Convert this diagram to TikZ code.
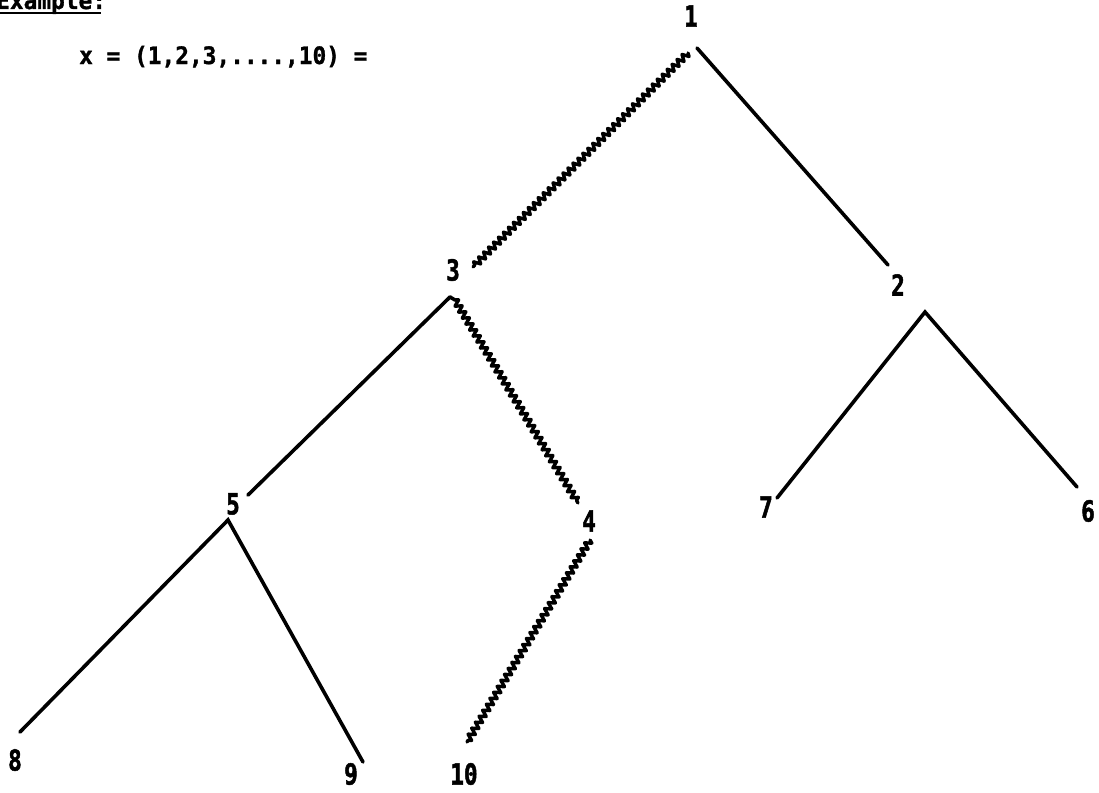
\documentclass[tikz,border=0pt]{standalone}
\usepackage{fontspec}
\newfontfamily\lblfont{DejaVu Sans Mono}[FakeStretch=0.78, FakeBold=1.6]
\newfontfamily\txtfont{DejaVu Sans Mono}[FakeStretch=0.95, FakeBold=1.2]
\usetikzlibrary{decorations.pathmorphing}
\begin{document}
\begin{tikzpicture}[x=1pt,y=-1pt,
  lbl/.style={inner sep=0pt, font=\lblfont\bfseries\fontsize{29}{30}\selectfont},
  txt/.style={inner sep=0pt, font=\txtfont\bfseries\fontsize{24}{26}\selectfont},
  edge/.style={line width=3.6pt, line cap=round, line join=miter},
  wavy/.style={line width=3.4pt, line cap=round, line join=round, decorate,
    decoration={zigzag, segment length=7pt, amplitude=3.2pt}}]
\useasboundingbox (0,0) rectangle (1099,792);
\clip (0,0) rectangle (1099,792);
% title (cut off at top)
\node[txt, anchor=base west] (title) at (-4,9) {Example:};
\draw[line width=2.6pt] (title.base west) ++(0,4) coordinate (ul1) -- (101,13) coordinate (ul2);
\node[txt, anchor=base west] (xdef) at (79,64) {x = (1,2,3,....,10) =};
% labels
\node[lbl] (n1) at (691,16) {1};
\node[lbl] (n3) at (453,270) {3};
\node[lbl] (n2) at (898,285) {2};
\node[lbl] (n5) at (233,504) {5};
\node[lbl] (n4) at (589,521) {4};
\node[lbl] (n7) at (766,507) {7};
\node[lbl] (n6) at (1088,511) {6};
\node[lbl] (n8) at (15,760) {8};
\node[lbl] (n9) at (351,774) {9};
\node[lbl] (n10) at (464,774) {10};
% edge end points
\coordinate (a1l) at (688,53);
\coordinate (a1r) at (697,48);
\coordinate (e3) at (473,267);
\coordinate (e2) at (888,265);
\coordinate (a3l) at (450,297);
\coordinate (a3r) at (455,300);
\coordinate (e5) at (248,495);
\coordinate (e4) at (578,503);
\coordinate (a2) at (925,312);
\coordinate (e7) at (777,498);
\coordinate (e6) at (1077,487);
\coordinate (a5) at (228,520);
\coordinate (e8) at (20,732);
\coordinate (e9) at (363,762);
\coordinate (a4) at (590,540);
\coordinate (e10) at (467,742);
% edges
\draw[wavy] (a1l) -- (e3);
\draw[edge] (a1r) -- (e2);
\draw[edge] (a3l) -- (e5);
\draw[edge] (a3l) -- (a3r);
\draw[wavy] (a3r) -- (e4);
\draw[edge] (e7) -- (a2) -- (e6);
\draw[edge] (e8) -- (a5) -- (e9);
\draw[wavy] (a4) -- (e10);
\end{tikzpicture}
\end{document}
